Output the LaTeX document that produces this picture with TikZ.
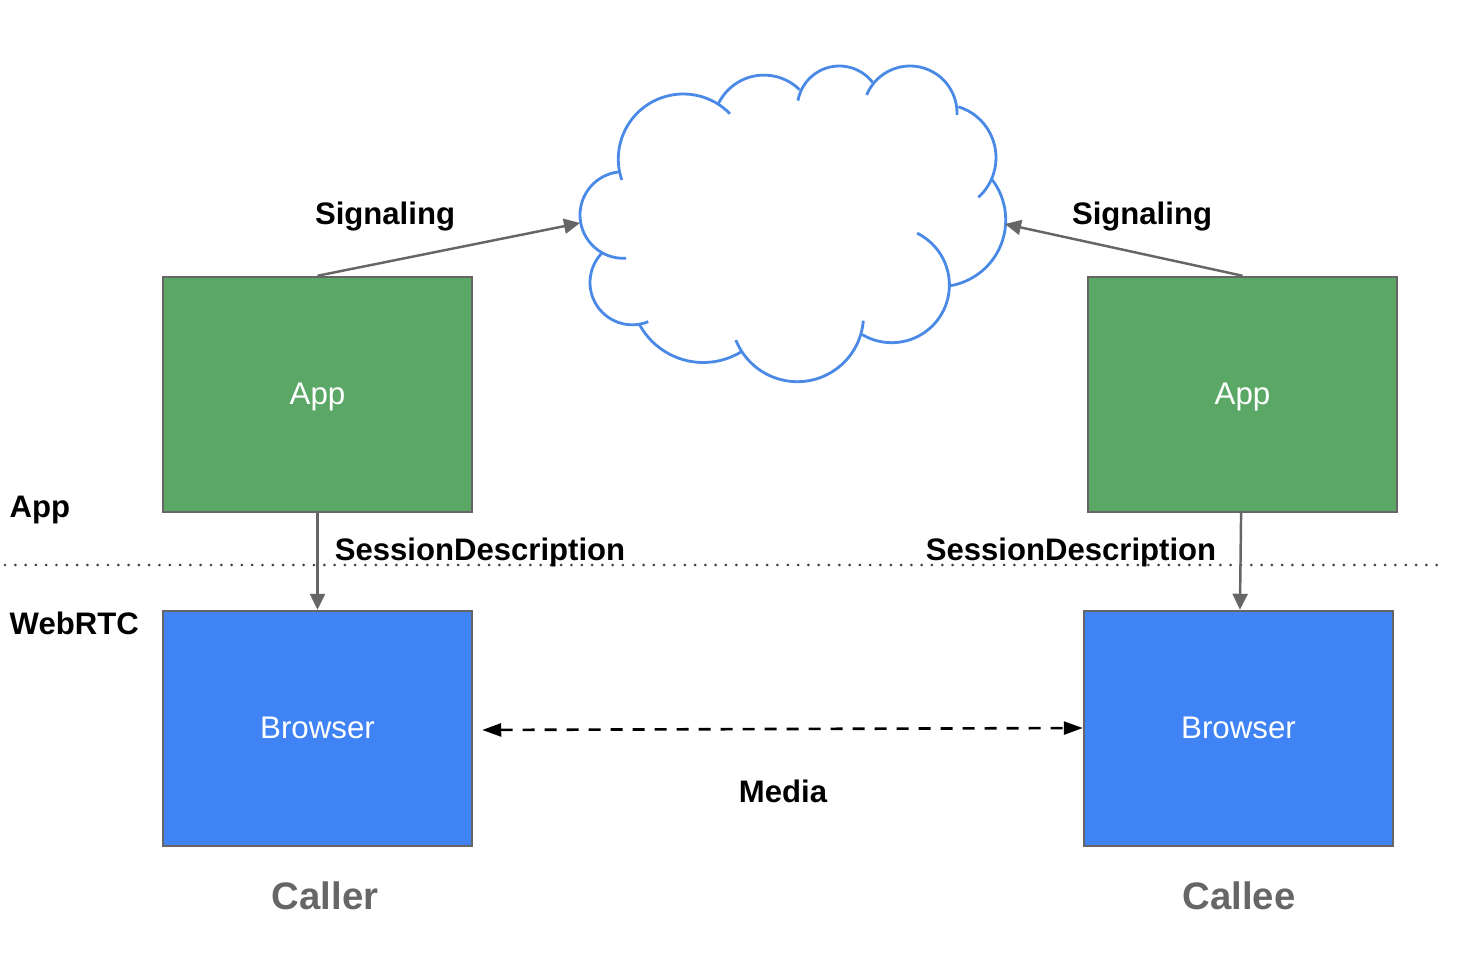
\documentclass[tikz,border=0pt]{standalone}
\usepackage{fontspec}
\setmainfont{Liberation Sans}
\usetikzlibrary{positioning, arrows.meta}
\definecolor{appgreen}{HTML}{5BA866}
\definecolor{browserblue}{HTML}{4083F5}
\definecolor{cloudblue}{HTML}{4A8AE6}
\definecolor{edgegray}{HTML}{666666}
\tikzset{
box/.style={shape=rectangle, minimum width=3.09cm, minimum height=2.35cm, inner sep=0, draw=edgegray, line width=0.7pt, text=white, text height=0.19cm, text depth=0pt, font=\fontsize{8.9}{10}\selectfont},
appbox/.style={box, fill=appgreen}, browserbox/.style={box, fill=browserblue},
tag/.style={inner sep=0, font=\fontsize{8.85}{10}\selectfont\bfseries},
role/.style={inner sep=0, text=edgegray, font=\fontsize{10.9}{12}\selectfont\bfseries},
link/.style={draw=edgegray, line width=0.7pt, -{Triangle[length=0.16cm, width=0.15cm]}},
lobe/.style={draw=cloudblue, line width=0.8pt}}

\begin{document}
\begin{tikzpicture}
\useasboundingbox (0,0) rectangle (14.64,9.72);
% layer line
\coordinate (dots-l) at (0.05,4.07);
\coordinate (dots-r) at (14.45,4.07);
\draw [black!75, line width=0.85pt, line cap=round, dash pattern=on 0pt off 0.103cm] (dots-l) -- (dots-r);
% cloud
\foreach \cx/\cy/\r/\a/\b in {6.233/7.57/.433/273.6/95.3, 6.833/8.13/.65/198.8/44.2, 7.64/8.462/.507/154/45.4,
    8.393/8.64/.42/169.9/37.6, 9.10/8.59/.47/157.4/-2.4, 9.427/8.143/.533/72.9/-48, 9.39/7.52/.667/37.7/-81,
    8.917/6.87/.577/63.9/-121, 7.973/6.565/.662/-4.5/-158.2, 7.033/6.822/.727/-58.2/-151.2, 6.323/6.895/.423/-67.8/-223.6}{
      \draw [lobe] (\cx,\cy) ++(\a:\r) arc [start angle=\a, end angle=\b, radius=\r];
}
\coordinate (cloud-w) at (5.80,7.49);
\coordinate (cloud-e) at (10.05,7.48);
% the two ends
\foreach \ax/\bx/\rolex/\rolename [count=\j] in {3.175/3.175/3.25/Caller, 12.425/12.385/12.39/Callee}{
      \node [appbox] at (\ax, 5.775) (app-\j) {App};
      \node [browserbox] at (\bx, 2.435) (browser-\j) {Browser};
      \node [role] at (\rolex, 0.76) (role-\j) {\rolename};
      \draw [link] (app-\j) -- (browser-\j);
}
\draw [link] (app-1.north) -- (cloud-w);
\draw [link] (app-2.north) -- (cloud-e);
\draw [black, line width=0.75pt, dash pattern=on 0.12cm off 0.10cm, {Triangle[length=0.19cm, width=0.13cm]}-{Triangle[length=0.19cm, width=0.13cm]}, shorten <=0.09cm] ([yshift=-0.015cm]browser-1.east) -- ([yshift=0.005cm]browser-2.west);
% labels
\node [tag] at (3.85,7.55) (signal-1) {Signaling};
\node [tag] at (11.42,7.55) (signal-2) {Signaling};
\node [tag] at (4.80,4.20) (session-1) {SessionDescription};
\node [tag] at (10.71,4.20) (session-2) {SessionDescription};
\node [tag] at (7.83,1.81) (media) {Media};
\node [tag, anchor=west] at (0.09,4.62) (app-layer) {App};
\node [tag, anchor=west] at (0.09,3.485) (webrtc-layer) {WebRTC};
\end{tikzpicture}
\end{document}
